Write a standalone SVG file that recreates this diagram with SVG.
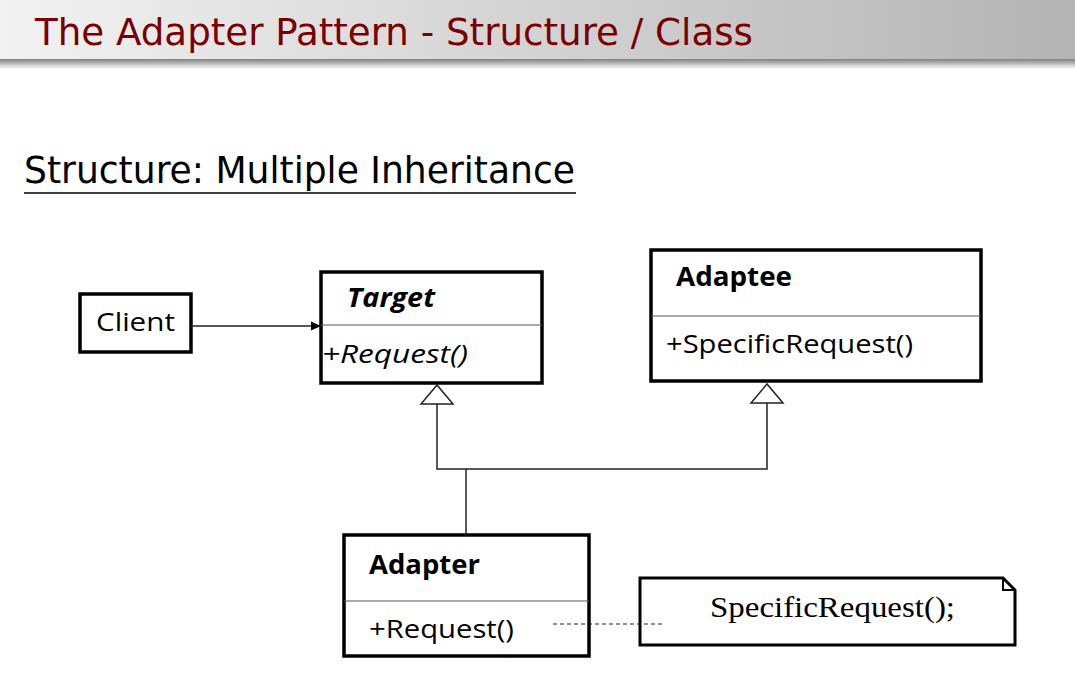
<svg xmlns="http://www.w3.org/2000/svg" width="1075" height="676" viewBox="0 0 1075 676">
<style>
.box{fill:#fff;stroke:#000;stroke-width:3.5}
.div{stroke:#555;stroke-width:1.2}
.lbl{font-family:"Open Sans","Liberation Sans",sans-serif;font-size:26px;fill:#000}
.b{font-weight:bold}
.it{font-style:italic}
.conn{fill:none;stroke:#222;stroke-width:1.5}
</style>
<defs>
<linearGradient id="hdr" x1="0" y1="0" x2="1" y2="0">
<stop offset="0" stop-color="#f2f2f2"/>
<stop offset="1" stop-color="#b4b4b4"/>
</linearGradient>
<linearGradient id="shd" x1="0" y1="0" x2="0" y2="1">
<stop offset="0" stop-color="#808080"/>
<stop offset="1" stop-color="#ffffff"/>
</linearGradient>
<marker id="arr" markerWidth="12" markerHeight="12" refX="10" refY="5" orient="auto" markerUnits="userSpaceOnUse">
<path d="M0,0.5 L10,5 L0,9.5 Z" fill="#000"/>
</marker>
</defs>
<rect width="1075" height="676" fill="#fff"/>
<g id="header">
<rect x="0" y="0" width="1075" height="59" fill="url(#hdr)"/>
<rect x="0" y="59" width="1075" height="10" fill="url(#shd)"/>
<text x="35" y="45" font-family="'Liberation Sans Narrow','DejaVu Sans Condensed','Liberation Sans',sans-serif" font-size="38" fill="#7a0000" textLength="718" lengthAdjust="spacingAndGlyphs">The Adapter Pattern - Structure / Class</text>
</g>
<g id="subtitle">
<text x="24" y="183" font-family="'Liberation Sans Narrow','DejaVu Sans Condensed','Liberation Sans',sans-serif" font-size="38" fill="#000" textLength="551" lengthAdjust="spacingAndGlyphs">Structure: Multiple Inheritance</text>
<line x1="24" y1="193" x2="576" y2="193" stroke="#000" stroke-width="1.5"/>
</g>
<g id="client">
<rect class="box" x="80" y="294" width="111" height="58"/>
<text class="lbl" x="96" y="331" textLength="79" lengthAdjust="spacingAndGlyphs">Client</text>
</g>
<g id="target">
<rect class="box" x="321" y="272" width="221" height="111"/>
<line class="div" x1="321" y1="325" x2="542" y2="325"/>
<text class="lbl b it" x="347" y="307" textLength="88" lengthAdjust="spacingAndGlyphs">Target</text>
<text class="lbl it" x="322" y="363" textLength="146" lengthAdjust="spacingAndGlyphs">+Request()</text>
</g>
<g id="adaptee">
<rect class="box" x="651" y="250" width="330" height="131"/>
<line class="div" x1="651" y1="316" x2="981" y2="316"/>
<text class="lbl b" x="676" y="286" textLength="116" lengthAdjust="spacingAndGlyphs">Adaptee</text>
<text class="lbl" x="666" y="353" textLength="247" lengthAdjust="spacingAndGlyphs">+SpecificRequest()</text>
</g>
<g id="adapter">
<rect class="box" x="344" y="535" width="245" height="121"/>
<line class="div" x1="344" y1="601" x2="589" y2="601"/>
<text class="lbl b" x="369" y="574" textLength="111" lengthAdjust="spacingAndGlyphs">Adapter</text>
<text class="lbl" x="369" y="638" textLength="145" lengthAdjust="spacingAndGlyphs">+Request()</text>
</g>
<g id="note">
<path d="M640,578 L1003,578 L1015,590 L1015,645 L640,645 Z" fill="#fff" stroke="#000" stroke-width="3"/>
<path d="M1003,578 L1003,590 L1015,590" fill="none" stroke="#000" stroke-width="2"/>
<text x="710" y="617" font-family="'Liberation Serif',serif" font-size="30" fill="#000" textLength="245" lengthAdjust="spacingAndGlyphs">SpecificRequest();</text>
</g>
<g id="connectors">
<line class="conn" x1="191" y1="326" x2="321" y2="326" marker-end="url(#arr)"/>
<polyline class="conn" points="437,404 437,469 767,469 767,403"/>
<line class="conn" x1="466" y1="469" x2="466" y2="535"/>
<polygon points="437,385 421,404 453,404" fill="#fff" stroke="#222" stroke-width="1.5"/>
<polygon points="767,384 751,403 783,403" fill="#fff" stroke="#222" stroke-width="1.5"/>
<line x1="553" y1="624" x2="665" y2="624" stroke="#222" stroke-width="1.2" stroke-dasharray="4,3"/>
</g>
</svg>
